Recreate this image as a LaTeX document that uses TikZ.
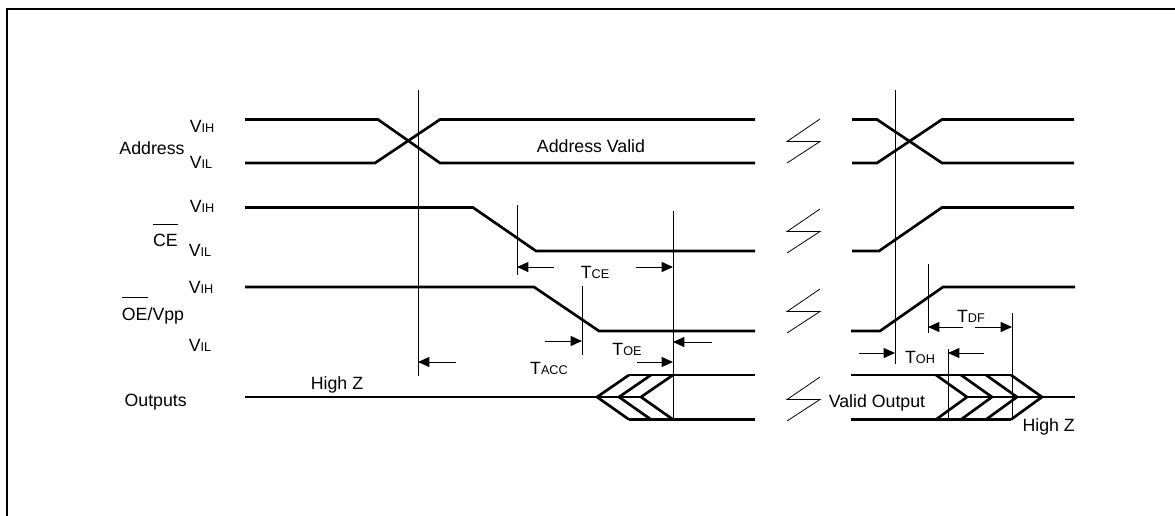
\documentclass[tikz,border=0pt]{standalone}
\usepackage{fontspec}
\setmainfont{Liberation Sans}
\usetikzlibrary{arrows.meta}

\newcommand\lv[2]{#1{\fontsize{9.5}{10}\selectfont #2}}
\newsavebox\ovlbox
\newcommand\ovl[1]{\sbox\ovlbox{#1}\rlap{\raisebox{16.5pt}{\rule{\wd\ovlbox}{0.9pt}}}\usebox\ovlbox}

\tikzset{
	sig/.style={line width=2pt},
	vline/.style={line width=0.7pt},
	tarr/.style={line width=0.7pt,-{Triangle[length=8.5pt,width=7.5pt]}},
	brk/.style={line width=0.6pt},
	lbl/.style={anchor=base,inner sep=0pt,font=\fontsize{13.3}{16}\selectfont},
}

\begin{document}
\begin{tikzpicture}[x=0.75pt,y=-0.75pt]
		\useasboundingbox (0,0) rectangle (1175,515);
		\clip (0,0) rectangle (1175,515);
		\draw[line width=2pt] (7,9) rectangle (1195,535);
		
		% signals
		\draw[sig] (245,119.5) -- (378,119.5) -- (440,163) -- (755,163);
		\draw[sig] (245,163) -- (375,163) -- (440,119.5) -- (755,119.5);
		\draw[sig] (852,119.5) -- (877,119.5) -- (942,163) -- (1074,163);
		\draw[sig] (852,163) -- (877,163) -- (942,119.5) -- (1074,119.5);
		
		\draw[sig] (245,207.5) -- (473,207.5) -- (536,251) -- (755,251);
		\draw[sig] (852,251) -- (879,251) -- (942,207.5) -- (1074,207.5);
		
		\draw[sig] (245,287) -- (534,287) -- (599,331) -- (755,331);
		\draw[sig] (851,331) -- (880,331) -- (943,287) -- (1075,287);
		
		\draw[sig] (245,397) -- (641,397);
		\draw[sig] (629,375) -- (755,375);
		\draw[sig] (629,419.5) -- (755,419.5);
		\foreach \x in {597,619,641}
			\draw[sig] (\x+32,375) -- (\x,397) -- (\x+32,419.5);
		
		\draw[sig] (851,375) -- (1011,375);
		\draw[sig] (851,419.5) -- (1011,419.5);
		\draw[sig] (967,397) -- (1075,397);
		\foreach \x in {967,992,1017,1042}
			\draw[sig] (\x-31,375) -- (\x,397) -- (\x-31,419.5);
		
		% breaks
		\foreach \y in {119,209,289,377}
			\draw[brk] (820,\y) -- (787,\y+22.5) -- (820,\y+22.5) -- (787,\y+44);
		
		% timing marks
		\coordinate (mA) at (418,90);
		\coordinate (mCE) at (517,205);
		\coordinate (mOE) at (582,286);
		\coordinate (mOut) at (673,211);
		\coordinate (mR) at (895,90);
		\coordinate (mDF) at (928,264);
		\coordinate (mOH) at (948,349);
		\coordinate (mHZ) at (1012,313);
		\draw[vline] (mA) -- (418,376);
		\draw[vline] (mCE) -- (517,275);
		\draw[vline] (mOE) -- (582,355);
		\draw[vline] (mOut) -- (673,419.5);
		\draw[vline] (mR) -- (895,364);
		\draw[vline] (mDF) -- (928,333);
		\draw[vline] (mOH) -- (948,418);
		\draw[vline] (mHZ) -- (1012,420);
		
		\draw[tarr] (554,267) -- (mCE |- 0,267);
		\draw[tarr] (636,267) -- (mOut |- 0,267);
		\draw[tarr] (545,341) -- (mOE |- 0,341);
		\draw[tarr] (712,342) -- (mOut |- 0,342);
		\draw[tarr] (637,362) -- (mOut |- 0,362);
		\draw[tarr] (456,362) -- (mA |- 0,362);
		\draw[tarr] (859,353) -- (mR |- 0,353);
		\draw[tarr] (984,353) -- (mOH |- 0,353);
		\draw[tarr] (963,327) -- (mDF |- 0,327);
		\draw[tarr] (975,327) -- (mHZ |- 0,327);
		
		% labels
		\node[lbl] (addr) at (152,154.3) {Address};
		\node[lbl] (addrH) at (202,132.7) {\lv{V}{IH}};
		\node[lbl] (addrL) at (201,168.3) {\lv{V}{IL}};
		\node[lbl] (valid) at (591,152.7) {Address Valid};
		\node[lbl] (ce) at (165.5,246.7) {\ovl{CE}};
		\node[lbl] (ceH) at (202,212.7) {\lv{V}{IH}};
		\node[lbl] (ceL) at (200,256.7) {\lv{V}{IL}};
		\node[lbl] (oe) at (153,320) {\ovl{OE}/Vpp};
		\node[lbl] (oeH) at (201,293.3) {\lv{V}{IH}};
		\node[lbl] (oeL) at (200,351.7) {\lv{V}{IL}};
		\node[lbl] (outs) at (155.7,406.7) {Outputs};
		\node[lbl] (hzL) at (337,389.3) {High Z};
		\node[lbl] (vout) at (877,407.7) {Valid Output};
		\node[lbl] (hzR) at (1048.7,431.7) {High Z};
		\node[lbl] (tce) at (595,278.3) {\lv{T}{CE}};
		\node[lbl] (toe) at (627,355) {\lv{T}{OE}};
		\node[lbl] (tacc) at (549,374) {\lv{T}{ACC}};
		\node[lbl] (tdf) at (971,322.7) {\lv{T}{DF}};
		\node[lbl] (toh) at (920,363.3) {\lv{T}{OH}};
	\end{tikzpicture}
\end{document}
